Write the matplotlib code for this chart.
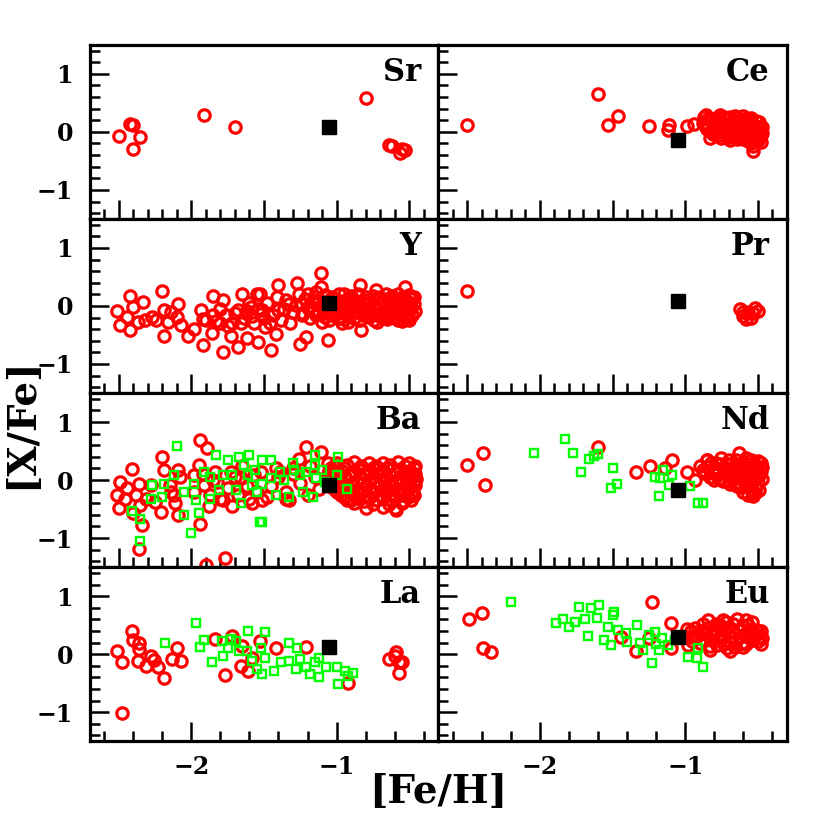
import matplotlib
matplotlib.use("Agg")
import matplotlib.pyplot as plt
from matplotlib.ticker import MultipleLocator

plt.rcParams['font.family'] = ['DejaVu Serif']
plt.rcParams['font.weight'] = 'bold'

# ---- data: [Fe/H] (x) and [X/Fe] (y) ----
sr_x = [-2.50, -2.42, -2.40, -2.35, -2.40, -1.91, -1.70, -0.80, -0.64, -0.62, -0.55, -0.56, -0.53]
sr_y = [-0.07, 0.14, 0.12, -0.08, -0.29, 0.29, 0.09, 0.59, -0.22, -0.25, -0.30, -0.37, -0.32]

ce_x = [-2.50, -1.60, -1.53, -1.46, -1.25, -1.12, -1.11, -0.99, -0.94,
        -0.86, -0.76, -0.64, -0.57, -0.49, -0.53, -0.83, -0.69, -0.50, -0.55,
        -0.88, -0.85, -0.82, -0.80, -0.78, -0.77, -0.74, -0.72, -0.71, -0.70,
        -0.68, -0.67, -0.65, -0.63, -0.62, -0.61, -0.60, -0.59, -0.58, -0.56,
        -0.55, -0.54, -0.52, -0.51, -0.50, -0.48, -0.47, -0.81, -0.75, -0.66,
        -0.73, -0.79, -0.57, -0.48, -0.53, -0.60, -0.84, -0.69,
        -0.87, -0.84, -0.82, -0.79, -0.77, -0.75, -0.73, -0.71, -0.69, -0.68,
        -0.66, -0.64, -0.63, -0.61, -0.59, -0.58, -0.57, -0.55, -0.54, -0.52,
        -0.51, -0.49, -0.47, -0.49, -0.52, -0.56, -0.60, -0.64, -0.70, -0.76,
        -0.80, -0.86]
ce_y = [0.11, 0.65, 0.11, 0.27, 0.10, 0.04, 0.11, 0.10, 0.14,
        0.29, 0.29, 0.26, 0.23, 0.17, -0.33, -0.11, -0.14, -0.14, -0.20,
        0.15, 0.05, 0.20, 0.10, 0.00, 0.18, 0.08, -0.05, 0.22, 0.12,
        0.02, 0.18, -0.08, 0.10, 0.00, 0.20, -0.12, 0.08, -0.03, 0.14,
        0.04, -0.08, 0.10, -0.02, 0.05, -0.06, 0.08, -0.04, -0.10, 0.28,
        0.25, 0.24, -0.15, -0.18, -0.24, 0.28, 0.22, -0.02,
        0.25, 0.10, 0.00, 0.15, 0.24, 0.02, 0.14, 0.05, 0.25, 0.15,
        0.05, 0.18, -0.02, 0.10, 0.22, 0.12, 0.02, 0.24, 0.15, 0.00,
        0.18, 0.08, -0.02, -0.10, -0.15, -0.07, -0.05, -0.12, -0.08, -0.06,
        -0.02, 0.08]

y_x = [-2.51, -2.49, -2.44, -2.42, -2.40, -2.42, -2.37, -2.33, -2.32, -2.27,
       -2.24, -2.20, -2.19, -2.19, -2.16, -2.14, -2.09, -2.10, -2.07, -2.02,
       -1.98, -1.93, -1.92, -1.92, -1.86, -1.85, -1.83, -1.80, -1.78, -1.78,
       -1.76, -1.73, -1.72, -1.68, -1.68, -1.65, -1.64, -1.62, -1.59, -1.57,
       -1.55, -1.54, -1.52,
       -1.53, -1.51, -1.49, -1.45, -1.42, -1.40, -1.41, -1.40, -1.33, -1.27,
       -1.26, -1.25, -1.21, -1.24, -1.19, -1.14, -1.11, -1.11, -1.06, -0.98,
       -0.96, -0.91, -0.84, -0.83, -0.80, -0.73, -0.66, -0.61, -0.53, -0.52, -0.50,
       -1.48, -1.44, -1.38, -1.35, -1.30, -1.28, -1.46, -1.36, -1.32, -1.50,
       -1.70, -1.62, -1.58, -1.66, -1.60, -1.54, -1.75, -1.85, -1.80, -1.90,
       -1.20, -1.08, -0.95, -0.85, -0.75, -0.66, -0.58, -0.50,
       -1.22, -1.12, -1.02, -0.92, -0.82, -0.72, -0.62, -0.55, -0.48,
       -1.24, -1.15, -1.05, -0.97, -0.88, -0.79, -0.70, -0.61, -0.53, -0.47,
       -1.20, -1.10, -1.00, -0.90, -0.81, -0.73, -0.64, -0.56, -0.49,
       -1.23, -1.13, -1.03, -0.94, -0.85, -0.76, -0.67, -0.59, -0.51,
       -1.18, -1.08, -0.98, -0.88, -0.78, -0.69, -0.60, -0.52,
       -1.10, -0.92, -0.72, -0.55,
       -1.15, -1.03, -0.90, -0.80, -0.70, -0.62, -0.54, -0.47,
       -1.17, -1.07, -0.97, -0.87, -0.77, -0.67, -0.58, -0.51,
       -1.19, -1.09, -1.00, -0.93, -0.84, -0.75, -0.66, -0.57, -0.50,
       -1.16, -1.06, -0.96, -0.86, -0.77, -0.68, -0.60, -0.52, -0.46,
       -1.14, -1.04, -0.92, -0.82, -0.72, -0.63, -0.55, -0.48,
       -1.05, -0.95, -0.84, -0.74, -0.65, -0.58, -0.50]
y_y = [-0.09, -0.33, -0.19, 0.18, -0.02, -0.42, -0.28, 0.07, -0.25, -0.19,
       -0.25, 0.26, -0.07, -0.51, -0.28, -0.10, 0.04, -0.19, -0.33, -0.51,
       -0.39, -0.07, -0.22, -0.68, -0.46, 0.18, -0.26, -0.05, 0.10, -0.79,
       -0.16, -0.51, -0.30, -0.07, -0.71, 0.20, -0.20, -0.55, -0.02, -0.30,
       0.20, -0.62, -0.13,
       0.21, -0.07, -0.36, -0.76, -0.48, 0.36, 0.16, -0.07, 0.04, 0.39,
       0.21, -0.65, -0.53, -0.16, -0.02, 0.24, 0.56, 0.33, -0.59, 0.21,
       -0.30, 0.10, 0.36, -0.41, -0.13, 0.27, -0.19, 0.16, 0.33, -0.22, 0.04,
       0.05, -0.15, -0.25, 0.10, -0.10, 0.02, -0.30, -0.05, -0.30, -0.20,
       -0.12, -0.08, -0.18, -0.30, 0.05, -0.05, -0.35, -0.15, -0.30, -0.25,
       0.20, 0.19, 0.21, 0.20, 0.18, 0.21, 0.20, 0.19,
       0.12, 0.11, 0.13, 0.12, 0.11, 0.13, 0.12, 0.11, 0.12,
       0.04, 0.05, 0.03, 0.04, 0.05, 0.03, 0.04, 0.05, 0.04, 0.03,
       -0.04, -0.03, -0.05, -0.04, -0.03, -0.05, -0.04, -0.03, -0.04,
       -0.12, -0.11, -0.13, -0.12, -0.11, -0.13, -0.12, -0.11, -0.12,
       -0.20, -0.19, -0.21, -0.20, -0.19, -0.21, -0.20, -0.19,
       -0.27, -0.28, -0.27, -0.26,
       0.16, 0.15, 0.17, 0.16, 0.15, 0.17, 0.16, 0.15,
       0.08, 0.07, 0.09, 0.08, 0.07, 0.09, 0.08, 0.07,
       0.00, 0.01, -0.01, 0.00, 0.01, -0.01, 0.00, 0.01, 0.00,
       -0.08, -0.07, -0.09, -0.08, -0.07, -0.09, -0.08, -0.07, -0.08,
       -0.16, -0.15, -0.17, -0.16, -0.15, -0.17, -0.16, -0.15,
       -0.24, -0.23, -0.25, -0.24, -0.23, -0.25, -0.24]

pr_x = [-2.50, -0.62, -0.52, -0.60, -0.55, -0.57, -0.53, -0.60, -0.58, -0.50]
pr_y = [0.26, -0.05, -0.03, -0.17, -0.20, -0.10, -0.12, -0.10, -0.22, -0.08]

ba_x = [-2.51, -2.50, -2.49, -2.46, -2.44, -2.41, -2.40, -2.38, -2.36, -2.35,
        -2.34, -2.36, -2.31, -2.28, -2.25, -2.21, -2.20, -2.19, -2.15, -2.14,
        -2.11, -2.09, -2.09, -2.08, -2.12, -1.98, -1.95, -1.94, -1.89, -1.94,
        -1.91, -1.87, -1.84, -1.82, -1.80, -1.77, -1.90, -1.75, -1.73, -1.68,
        -1.66, -1.60, -1.57, -1.55, -1.52,
        -1.21, -1.11, -1.06, -1.26, -1.30, -1.35, -1.51, -1.39, -0.59, -0.93, -0.48,
        -1.45, -1.40, -1.35, -1.30, -1.25, -1.20, -1.15, -1.12, -1.48, -1.42, -1.33, -1.18,
        -1.98, -1.85, -1.78, -1.70, -1.62, -1.58, -1.65, -1.72, -1.92, -1.88,
        -1.00, -0.88, -0.78, -0.68, -0.58, -0.50,
        -1.04, -0.95, -0.85, -0.75, -0.65, -0.56, -0.47,
        -1.06, -0.98, -0.90, -0.81, -0.72, -0.63, -0.54, -0.46,
        -1.02, -0.94, -0.86, -0.77, -0.68, -0.59, -0.50, -0.45,
        -1.05, -0.97, -0.88, -0.80, -0.71, -0.62, -0.53, -0.46,
        -1.00, -0.91, -0.83, -0.74, -0.65, -0.57, -0.48,
        -0.95, -0.86, -0.77, -0.68, -0.60, -0.51,
        -0.88, -0.75, -0.64, -0.55,
        -1.02, -0.93, -0.83, -0.73, -0.63, -0.53, -0.46,
        -1.05, -0.96, -0.87, -0.77, -0.68, -0.59, -0.50,
        -1.03, -0.94, -0.84, -0.75, -0.66, -0.57, -0.48,
        -1.06, -0.99, -0.90, -0.82, -0.73, -0.64, -0.55, -0.47,
        -1.02, -0.93, -0.85, -0.76, -0.67, -0.58, -0.50,
        -0.97, -0.89, -0.80, -0.71, -0.62, -0.54, -0.47,
        -0.90, -0.81, -0.72, -0.63, -0.55, -0.49,
        -0.80, -0.68, -0.60]
ba_y = [-0.26, -0.49, -0.04, -0.32, -0.14, 0.19, -0.57, -0.26, -0.06, -0.43,
        -0.78, -1.19, -0.32, -0.09, -0.37, -0.55, 0.40, 0.17, -0.09, -0.20,
        -0.40, -0.60, 0.17, 0.06, -0.26, 0.09, 0.26, 0.69, 0.55, -0.75,
        -0.09, -0.26, 0.14, -0.03, -0.32, -1.35, -1.47, -0.14, 0.14, -0.26,
        0.03, -0.32, 0.09, -0.20, 0.14,
        0.57, 0.49, 0.29, 0.37, 0.20, -0.32, -0.34, 0.14, -0.52, -0.34, -0.26,
        -0.10, 0.05, -0.20, 0.10, -0.05, -0.25, 0.05, -0.15, -0.30, 0.20, -0.35, 0.25,
        -0.20, 0.00, -0.35, 0.05, -0.10, -0.40, 0.25, -0.45, 0.10, -0.45,
        0.30, 0.31, 0.29, 0.30, 0.31, 0.29,
        0.20, 0.21, 0.19, 0.20, 0.21, 0.19, 0.20,
        0.10, 0.11, 0.09, 0.10, 0.11, 0.09, 0.10, 0.11,
        0.00, 0.01, -0.01, 0.00, 0.01, -0.01, 0.00, 0.01,
        -0.10, -0.09, -0.11, -0.10, -0.09, -0.11, -0.10, -0.09,
        -0.20, -0.19, -0.21, -0.20, -0.19, -0.21, -0.20,
        -0.30, -0.31, -0.29, -0.30, -0.31, -0.29,
        -0.40, -0.42, -0.41, -0.40,
        0.25, 0.26, 0.24, 0.25, 0.26, 0.24, 0.25,
        0.15, 0.16, 0.14, 0.15, 0.16, 0.14, 0.15,
        0.05, 0.06, 0.04, 0.05, 0.06, 0.04, 0.05,
        -0.05, -0.04, -0.06, -0.05, -0.04, -0.06, -0.05, -0.04,
        -0.15, -0.14, -0.16, -0.15, -0.14, -0.16, -0.15,
        -0.25, -0.24, -0.26, -0.25, -0.24, -0.26, -0.25,
        -0.35, -0.36, -0.34, -0.35, -0.36, -0.34,
        -0.48, -0.47, -0.49]
ba_gx = [-2.10, -2.27, -2.28, -2.41, -2.35, -2.35, -2.20, -2.19, -2.12, -2.05,
         -2.05, -2.00, -1.98, -1.95, -1.97, -1.91, -1.87, -1.83, -1.87, -1.81,
         -1.78, -1.75, -1.72, -1.69, -1.66, -1.67, -1.64, -1.60, -1.61, -1.58,
         -1.55, -1.53, -1.56,
         -1.51, -1.45, -1.51, -1.51, -1.42, -1.33, -1.39, -1.36, -1.30, -1.29,
         -1.23, -1.21, -1.15, -1.15, -1.16, -1.14, -1.08, -0.99, -1.00, -0.93,
         -1.10, -1.25, -1.45]
ba_gy = [0.59, -0.09, -0.32, -0.53, -0.67, -1.05, -0.29, -0.07, 0.09, -0.21,
         -0.60, -0.91, -0.06, -0.57, -0.34, 0.14, 0.06, 0.44, -0.32, -0.17,
         0.09, 0.34, 0.09, -0.17, -0.40, 0.40, 0.26, 0.44, 0.09, -0.09,
         -0.20, -0.72, 0.17,
         0.34, 0.34, -0.06, -0.72, -0.25, -0.29, 0.14, 0.00, 0.29, 0.17,
         -0.20, 0.14, 0.43, 0.26, -0.29, 0.03, -0.04, 0.40, 0.09, -0.16,
         0.17, 0.09, 0.03]

nd_x = [-2.50, -2.39, -2.38, -1.60, -1.34, -1.24, -1.14, -1.09, -0.99, -0.93,
        -0.85, -0.63, -0.55, -0.54, -0.80, -0.69,
        -0.90, -0.87, -0.85, -0.83, -0.80, -0.78, -0.76, -0.74, -0.72, -0.70,
        -0.68, -0.66, -0.64, -0.62, -0.60, -0.58, -0.56, -0.55, -0.53, -0.51,
        -0.50, -0.48, -0.47, -0.49, -0.57, -0.52, -0.60, -0.66, -0.75, -0.58, -0.48, -0.82,
        -0.88, -0.84, -0.81, -0.79, -0.77, -0.73, -0.71, -0.69, -0.67, -0.65,
        -0.63, -0.61, -0.59, -0.57, -0.55, -0.54, -0.52, -0.50, -0.49, -0.47,
        -0.51, -0.55, -0.62, -0.70, -0.53]
nd_y = [0.26, 0.46, -0.09, 0.57, 0.14, 0.24, 0.20, 0.34, 0.14, 0.00,
        0.34, 0.46, 0.34, -0.20, 0.00, -0.06,
        0.25, 0.12, 0.34, 0.05, 0.20, 0.10, 0.28, -0.02, 0.15, 0.35,
        0.05, 0.22, -0.10, 0.12, 0.30, 0.00, 0.18, -0.15, 0.08, 0.25,
        -0.05, 0.15, 0.02, -0.18, -0.25, -0.22, -0.20, -0.05, 0.38, 0.38, 0.30, 0.30,
        0.18, 0.22, 0.12, 0.30, 0.02, 0.22, 0.08, 0.28, 0.14, 0.35,
        0.04, 0.20, 0.10, 0.28, 0.05, 0.22, 0.14, 0.32, 0.08, 0.22,
        -0.12, -0.08, -0.12, -0.02, -0.28]
nd_gx = [-1.83, -2.04, -1.77, -1.72, -1.66, -1.63, -1.60, -1.50, -1.51, -1.47,
         -1.21, -1.18, -1.15, -1.17, -1.11, -1.09, -0.97, -0.91, -0.88]
nd_gy = [0.70, 0.46, 0.47, 0.14, 0.37, 0.41, 0.45, 0.20, -0.14, -0.07,
         0.06, -0.28, 0.17, 0.03, -0.09, 0.09, -0.10, -0.39, -0.40]

la_x = [-2.51, -2.48, -2.48, -2.41, -2.40, -2.36, -2.36, -2.37, -2.31, -2.28,
        -2.26, -2.23, -2.19, -2.13, -2.10, -2.07, -1.84, -1.77, -1.72, -1.65,
        -1.66, -1.61, -1.58, -1.53, -1.42, -1.21, -0.92, -0.64, -0.59, -0.57,
        -0.55, -0.57, -0.60]
la_y = [0.06, -0.14, -1.02, 0.40, 0.25, 0.20, 0.09, -0.11, -0.20, -0.03,
        -0.10, -0.23, -0.41, -0.09, 0.11, -0.11, 0.26, -0.36, 0.32, 0.14,
        -0.20, -0.29, -0.06, 0.23, 0.10, 0.13, -0.49, -0.09, 0.03, -0.14,
        -0.14, -0.32, -0.03]
la_gx = [-2.18, -1.97, -1.94, -1.91, -1.86, -1.79, -1.78, -1.75, -1.73, -1.69,
         -1.67, -1.62, -1.61, -1.58, -1.55, -1.51, -1.49, -1.52, -1.49, -1.43,
         -1.38, -1.33, -1.33, -1.28, -1.27, -1.25, -1.21, -1.18, -1.15, -1.12,
         -1.12, -1.07, -1.00, -0.99, -0.92, -0.89, -0.94]
la_gy = [0.20, 0.53, 0.13, 0.24, -0.13, 0.23, -0.03, 0.11, 0.26, 0.23,
         0.06, 0.06, 0.40, -0.11, -0.26, -0.34, 0.39, 0.10, -0.06, -0.29,
         -0.14, 0.20, -0.11, -0.26, 0.10, -0.09, -0.23, -0.34, -0.14, -0.40,
         -0.06, -0.23, -0.23, -0.52, -0.37, -0.32, -0.29]

eu_x = [-2.49, -2.40, -2.39, -2.34, -1.23, -1.10, -1.44, -1.34, -1.25, -1.10,
        -0.98, -0.99, -0.94, -0.83, -0.71,
        -0.97, -0.93, -0.90, -0.88, -0.86, -0.84, -0.82, -0.80, -0.78, -0.76,
        -0.74, -0.72, -0.70, -0.68, -0.66, -0.64, -0.62, -0.60, -0.58, -0.56,
        -0.54, -0.53, -0.51, -0.49, -0.48, -0.50, -0.69, -0.83, -0.95, -0.60,
        -0.96, -0.92, -0.89, -0.87, -0.85, -0.81, -0.79, -0.77, -0.75, -0.73,
        -0.71, -0.69, -0.67, -0.65, -0.63, -0.61, -0.59, -0.57, -0.55, -0.52,
        -0.50, -0.48, -0.47, -0.58, -0.74]
eu_y = [0.60, 0.71, 0.10, 0.04, 0.89, 0.54, 0.30, 0.06, 0.27, 0.10,
        0.16, 0.44, 0.30, 0.14, 0.10,
        0.30, 0.45, 0.20, 0.52, 0.35, 0.58, 0.25, 0.42, 0.15, 0.50,
        0.32, 0.55, 0.22, 0.40, 0.12, 0.60, 0.30, 0.48, 0.18, 0.38,
        0.55, 0.25, 0.42, 0.30, 0.18, 0.40, 0.05, 0.08, 0.22, 0.12,
        0.40, 0.32, 0.38, 0.25, 0.45, 0.35, 0.52, 0.28, 0.42, 0.18,
        0.45, 0.30, 0.52, 0.25, 0.42, 0.20, 0.35, 0.50, 0.28, 0.35,
        0.22, 0.40, 0.28, 0.58, 0.58]
eu_gx = [-2.20, -1.89, -1.84, -1.80, -1.76, -1.73, -1.69, -1.67, -1.65, -1.61,
         -1.59, -1.53, -1.49, -1.50, -1.56, -1.51, -1.46, -1.41, -1.40, -1.33,
         -1.31, -1.29, -1.23, -1.21, -1.20, -1.18, -1.16, -1.12, -1.07, -0.98,
         -0.91, -0.92, -0.88, -1.25]
eu_gy = [0.90, 0.53, 0.61, 0.47, 0.56, 0.82, 0.61, 0.31, 0.79, 0.63,
         0.84, 0.47, 0.73, 0.67, 0.24, 0.16, 0.41, 0.36, 0.21, 0.50,
         0.20, 0.07, -0.16, 0.39, 0.18, 0.07, 0.27, 0.16, 0.24, -0.05,
         0.10, -0.06, -0.22, 0.33]

# our star, same [Fe/H] in every panel
star_feh = -1.05
star_val = {'Sr': 0.08, 'Ce': -0.14, 'Y': 0.05, 'Pr': 0.09,
            'Ba': -0.09, 'Nd': -0.17, 'La': 0.12, 'Eu': 0.30}

panels = [('Sr', sr_x, sr_y, None, None), ('Ce', ce_x, ce_y, None, None),
          ('Y', y_x, y_y, None, None), ('Pr', pr_x, pr_y, None, None),
          ('Ba', ba_x, ba_y, ba_gx, ba_gy), ('Nd', nd_x, nd_y, nd_gx, nd_gy),
          ('La', la_x, la_y, la_gx, la_gy), ('Eu', eu_x, eu_y, eu_gx, eu_gy)]

fig, axes = plt.subplots(4, 2, figsize=(8.3, 8.3), dpi=100)
fig.subplots_adjust(left=0.108, right=0.948, top=0.946, bottom=0.107,
                    hspace=0, wspace=0)

for i, (name, rx, ry, gx, gy) in enumerate(panels):
    row, col = i // 2, i % 2
    ax = axes[row, col]
    ax.plot(rx, ry, 'o', ms=8.2, mfc='none', mec='red', mew=2.3)
    if gx is not None:
        ax.plot(gx, gy, 's', ms=5.6, mfc='none', mec='#00ff00', mew=1.7)
    ax.plot([star_feh], [star_val[name]], 's', ms=9.5, color='black')

    ax.set_xlim(-2.7, -0.3)
    ax.set_ylim(-1.5, 1.5)
    ax.set_yticks([-1, 0, 1])
    ax.yaxis.set_minor_locator(MultipleLocator(0.2))
    if row == 3:
        ax.set_xticks([-2, -1])
        ax.xaxis.set_minor_locator(MultipleLocator(0.2))
    else:
        ax.set_xticks([-2.5, -2, -1.5, -1, -0.5])
        ax.xaxis.set_minor_locator(MultipleLocator(0.1))
    ax.tick_params(which='both', direction='in', top=False, right=False, width=1.8)
    ax.tick_params(which='major', length=14)
    ax.tick_params(which='minor', length=7)
    ax.tick_params(axis='y', labelsize=17, pad=12)
    ax.tick_params(axis='x', labelsize=17, pad=10)
    if col == 1:
        ax.tick_params(axis='y', labelleft=False)
    if row != 3:
        ax.tick_params(axis='x', labelbottom=False)
    for s in ax.spines.values():
        s.set_linewidth(2.3)
    ax.text(0.951, 0.795, name, transform=ax.transAxes, ha='right',
            va='baseline', fontsize=22, fontweight='bold')

fig.text(0.528, 0.046, '[Fe/H]', ha='center', va='center', fontsize=28, fontweight='bold')
fig.text(0.026, 0.49, '[X/Fe]', ha='center', va='center', rotation=90,
         fontsize=28, fontweight='bold')

fig.savefig('out.png', dpi=100)
